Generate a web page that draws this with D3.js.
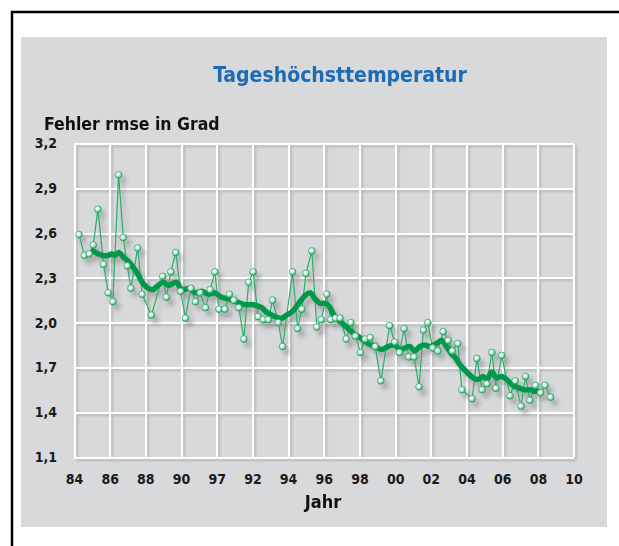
<!DOCTYPE html>
<head>
  <meta charset="utf-8">
  <script src="https://d3js.org/d3.v7.min.js"></script>
  <style>
    html, body { margin: 0; padding: 0; background: #fff; overflow: hidden; width: 619px; height: 546px; }
    svg { display: block; }
    text {
      font-family: "Liberation Sans Narrow", "DejaVu Sans Condensed", Roboto, sans-serif;
      font-weight: 700;
      fill: #111;
    }
    text.title { font-size: 21px; fill: #1c6bb5; }
    text.yTitle { font-size: 17.5px; }
    text.xTitle { font-size: 18px; }
    .tick text { font-size: 14px; fill: #1a1a1a; }
    .grid .tick line { stroke: #fff; stroke-width: 2; shape-rendering: crispEdges; }
    path.domain { display: none; }
  </style>
</head>

<body>
  <script>
    // monthly-ish error values, x in decimal years of the grid
    const rawYears = [1984.28, 1984.58, 1984.85, 1985.08, 1985.34, 1985.66, 1985.92, 1986.18, 1986.50, 1986.76,
      1986.99, 1987.19, 1987.57, 1987.82, 1988.34, 1988.97, 1989.18, 1989.43, 1989.70, 1989.98,
      1990.24, 1990.55, 1990.81, 1991.07, 1991.37, 1991.63, 1991.90, 1992.12, 1992.46, 1992.71,
      1992.96, 1993.24, 1993.52, 1993.79, 1994.04, 1994.32, 1994.61, 1994.89, 1995.13, 1995.45,
      1995.69, 1996.25, 1996.53, 1996.77, 1997.00, 1997.33, 1997.61, 1997.86, 1998.17, 1998.39,
      1998.66, 1998.91, 1999.26, 1999.52, 1999.77, 2000.06, 2000.32, 2000.60, 2000.88, 2001.20,
      2001.69, 2001.98, 2002.24, 2002.50, 2002.76, 2003.06, 2003.34, 2003.58, 2003.83, 2004.10,
      2004.39, 2004.69, 2004.97, 2005.20, 2005.51, 2005.74, 2006.31, 2006.58, 2006.87, 2007.14,
      2007.42, 2007.65, 2007.97, 2008.44, 2008.73, 2009.05, 2009.31, 2009.55, 2009.86, 2010.15,
      2010.40, 2010.71];
    const rawValues = [2.59, 2.45, 2.46, 2.52, 2.76, 2.39, 2.20, 2.14, 2.99, 2.57,
      2.38, 2.23, 2.50, 2.19, 2.05, 2.31, 2.17, 2.34, 2.47, 2.21,
      2.03, 2.23, 2.14, 2.20, 2.10, 2.22, 2.34, 2.09, 2.09, 2.19,
      2.15, 2.10, 1.89, 2.27, 2.34, 2.04, 2.02, 2.02, 2.15, 2.00,
      1.84, 2.34, 1.96, 2.09, 2.33, 2.48, 1.97, 2.02, 2.19, 2.02,
      2.03, 2.03, 1.89, 2.00, 1.91, 1.80, 1.89, 1.90, 1.84, 1.61,
      1.98, 1.87, 1.80, 1.96, 1.77, 1.77, 1.57, 1.95, 2.00, 1.83,
      1.81, 1.94, 1.88, 1.81, 1.86, 1.55, 1.49, 1.76, 1.55, 1.59,
      1.80, 1.56, 1.78, 1.51, 1.61, 1.44, 1.64, 1.48, 1.58, 1.53,
      1.58, 1.50];

    // gleitendes Mittel (thick line)
    const meanYears = [1985.08, 1985.36, 1985.64, 1985.92, 1986.11, 1986.30, 1986.50, 1986.76, 1987.04, 1987.32,
      1987.60, 1987.88, 1988.16, 1988.41, 1988.72, 1989.00, 1989.28, 1989.75, 1990.03, 1990.50,
      1990.78, 1991.15, 1991.52, 1991.86, 1992.27, 1992.64, 1993.11, 1993.58, 1994.04, 1994.52,
      1994.80, 1995.26, 1995.64, 1995.92, 1996.29, 1996.66, 1997.04, 1997.26, 1997.50, 1997.78,
      1998.06, 1998.30, 1998.62, 1998.90, 1999.28, 1999.65, 2000.02, 2000.49, 2000.86, 2001.24,
      2001.61, 2001.98, 2002.26, 2002.54, 2002.82, 2003.10, 2003.38, 2003.66, 2003.94, 2004.32,
      2004.60, 2004.88, 2005.16, 2005.34, 2005.62, 2006.00, 2006.37, 2006.65, 2006.93, 2007.15,
      2007.40, 2007.68, 2007.96, 2008.24, 2008.61, 2008.99, 2009.27, 2009.55, 2009.83, 2010.01];
    const meanValues = [2.48, 2.46, 2.45, 2.45, 2.46, 2.45, 2.47, 2.44, 2.41, 2.37,
      2.32, 2.26, 2.23, 2.22, 2.25, 2.27, 2.25, 2.27, 2.22, 2.23,
      2.20, 2.21, 2.19, 2.20, 2.17, 2.16, 2.14, 2.12, 2.12, 2.10,
      2.07, 2.04, 2.03, 2.05, 2.08, 2.14, 2.19, 2.20, 2.16, 2.13,
      2.13, 2.11, 2.04, 2.01, 1.97, 1.93, 1.90, 1.86, 1.84, 1.82,
      1.84, 1.85, 1.82, 1.83, 1.84, 1.81, 1.84, 1.85, 1.84, 1.86,
      1.88, 1.84, 1.79, 1.77, 1.72, 1.67, 1.63, 1.62, 1.64, 1.62,
      1.67, 1.63, 1.64, 1.62, 1.58, 1.56, 1.55, 1.55, 1.54, 1.54];

    const xTickYears = d3.range(1984, 2013, 2);
    const xTickLabels = ['84', '86', '88', '90', '97', '92', '94', '96', '98', '00', '02', '04', '06', '08', '10'];
    const yTicks = [1.1, 1.4, 1.7, 2.0, 2.3, 2.6, 2.9, 3.2];

    var width = 619, height = 546;
    const plot = { left: 74, right: 573.6, top: 143.5, bottom: 457 };

    var svg = d3.select('body').append('svg')
      .attr('width', width)
      .attr('height', height);

    let defs = svg.append('defs');
    defs.append('filter').attr('id', 'gridShadow')
      .attr('x', '-5%').attr('y', '-5%').attr('width', '115%').attr('height', '115%')
      .append('feDropShadow')
      .attr('dx', 2).attr('dy', 2).attr('stdDeviation', 1.2)
      .attr('flood-color', '#8a8b8d').attr('flood-opacity', 0.45);
    defs.append('filter').attr('id', 'lineShadow')
      .attr('x', '-10%').attr('y', '-10%').attr('width', '130%').attr('height', '130%')
      .append('feDropShadow')
      .attr('dx', 4).attr('dy', 5).attr('stdDeviation', 2.2)
      .attr('flood-color', '#6f7072').attr('flood-opacity', 0.45);
    let ball = defs.append('radialGradient').attr('id', 'ball')
      .attr('cx', '40%').attr('cy', '38%').attr('r', '62%');
    ball.append('stop').attr('offset', '0%').attr('stop-color', '#ffffff');
    ball.append('stop').attr('offset', '45%').attr('stop-color', '#d4f1e1');
    ball.append('stop').attr('offset', '100%').attr('stop-color', '#1ea865');

    // frame and panel (frame runs off the right and bottom edges)
    svg.append('path')
      .attr('d', `M12,${height + 5} V12 H${width + 5}`)
      .attr('fill', 'none').attr('stroke', '#000').attr('stroke-width', 2.5);
    svg.append('rect')
      .attr('x', 21).attr('y', 37).attr('width', 586).attr('height', 490)
      .attr('fill', '#d8d9da');

    let x = d3.scaleLinear().domain([1984, 2012]).range([plot.left, plot.right]);
    let y = d3.scaleLinear().domain([1.1, 3.2]).range([plot.bottom, plot.top]);
    const fmt = d3.formatLocale({ decimal: ',', thousands: '.', grouping: [3], currency: ['', '€'] }).format('.1f');

    let grid = svg.append('g').attr('class', 'grid').attr('filter', 'url(#gridShadow)');
    grid.append('g')
      .attr('transform', `translate(0, ${plot.bottom})`)
      .call(d3.axisBottom(x).tickValues(xTickYears).tickSize(-(plot.bottom - plot.top)).tickFormat(''));
    grid.append('g')
      .attr('transform', `translate(${plot.left}, 0)`)
      .call(d3.axisLeft(y).tickValues(yTicks).tickSize(-(plot.right - plot.left)).tickFormat(''));

    // tick labels
    svg.append('g')
      .attr('class', 'xAxis')
      .attr('transform', `translate(0, ${plot.bottom + 14})`)
      .call(d3.axisBottom(x).tickValues(xTickYears).tickSize(0).tickFormat((d, i) => xTickLabels[i]))
      .selectAll('.tick text').attr('dy', '0.71em');
    svg.append('g')
      .attr('class', 'yAxis')
      .attr('transform', `translate(${plot.left - 14}, 0)`)
      .call(d3.axisLeft(y).tickValues(yTicks).tickSize(0).tickFormat(fmt));

    svg.append('text')
      .attr('class', 'title')
      .attr('x', 340).attr('y', 82)
      .style('text-anchor', 'middle')
      .text('Tageshöchsttemperatur');
    svg.append('text')
      .attr('class', 'yTitle')
      .attr('x', 44).attr('y', 130)
      .text('Fehler rmse in Grad');
    svg.append('text')
      .attr('class', 'xTitle')
      .attr('x', 323).attr('y', 508)
      .style('text-anchor', 'middle')
      .text('Jahr');

    let raw = rawYears.map((d, i) => ({ year: d, value: rawValues[i] }));
    let mean = meanYears.map((d, i) => ({ year: d, value: meanValues[i] }));

    let line = d3.line().x(d => x(d.year)).y(d => y(d.value));

    let marks = svg.append('g').attr('filter', 'url(#lineShadow)');
    marks.append('path')
      .datum(raw)
      .attr('d', line)
      .attr('fill', 'none')
      .attr('stroke', '#27ad6b')
      .attr('stroke-width', 1.2);
    marks.append('path')
      .datum(mean)
      .attr('d', line.curve(d3.curveCatmullRom))
      .attr('fill', 'none')
      .attr('stroke', '#00994c')
      .attr('stroke-width', 5.5)
      .attr('stroke-linejoin', 'round')
      .attr('stroke-linecap', 'round');
    marks.selectAll('circle.dot')
      .data(raw)
      .enter()
      .append('circle')
      .attr('class', 'dot')
      .attr('cx', d => x(d.year))
      .attr('cy', d => y(d.value))
      .attr('r', 3.4)
      .attr('fill', 'url(#ball)')
      .attr('stroke', '#1c9f5f')
      .attr('stroke-width', 0.6);
  </script>
</body>
